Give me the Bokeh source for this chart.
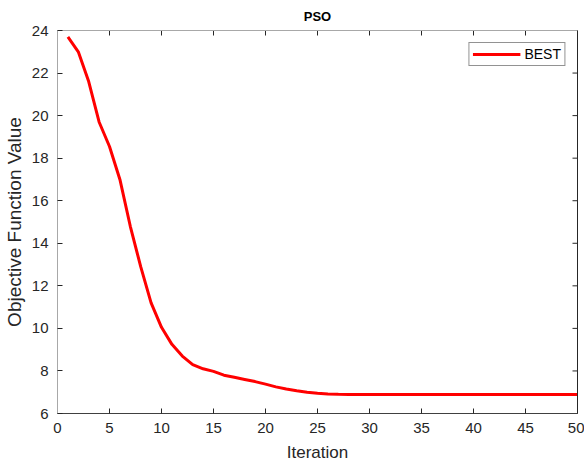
import math
from bokeh.plotting import figure
from bokeh.models import LinearAxis, FixedTicker, Legend, LegendItem, Range1d
from bokeh.embed import file_html
from bokeh.resources import INLINE

iterations = list(range(1, 51))
best = [23.7, 23.0, 21.6, 19.7, 18.55, 17.0, 14.8, 12.9, 11.2, 10.05,
        9.25, 8.7, 8.3, 8.1, 7.98, 7.8, 7.7, 7.6, 7.5, 7.38,
        7.25, 7.15, 7.07, 7.0, 6.95, 6.92, 6.9, 6.89, 6.89, 6.89,
        6.89, 6.89, 6.89, 6.89, 6.89, 6.89, 6.89, 6.89, 6.89, 6.89,
        6.89, 6.89, 6.89, 6.89, 6.89, 6.89, 6.89, 6.89, 6.89, 6.89]
x_ticks = [0, 5, 10, 15, 20, 25, 30, 35, 40, 45, 50]
y_ticks = [6, 8, 10, 12, 14, 16, 18, 20, 22, 24]
x_min, x_max = 0, 50
y_min, y_max = 6, 24

FONT = "Liberation Sans"
DARK = "#262626"

p = figure(width=584, height=464, output_backend="svg", toolbar_location=None,
           x_range=Range1d(x_min, x_max), y_range=Range1d(y_min, y_max),
           min_border_left=57, min_border_right=7, min_border_top=30, min_border_bottom=48)
p.title.text = "PSO"
p.title.align = "center"
p.title.text_font = FONT
p.title.text_font_size = "13px"
p.title.text_font_style = "bold"
p.title.text_color = "#000000"
p.title.standoff = 13
p.grid.visible = False
p.outline_line_color = None

r = p.line(iterations, best, line_color="#ff0000", line_width=3)

for ax in p.xaxis + p.yaxis:
    ax.major_label_text_font = FONT
    ax.major_label_text_font_size = "15px"
    ax.major_label_text_color = DARK
    ax.axis_label_text_font = FONT
    ax.axis_label_text_font_style = "normal"
    ax.axis_label_text_color = DARK
    ax.major_tick_in = 5
    ax.major_tick_out = 0
    ax.minor_tick_in = 0
    ax.minor_tick_out = 0
    ax.major_tick_line_color = DARK
    ax.axis_line_width = 1

p.xaxis.ticker = FixedTicker(ticks=x_ticks)
p.yaxis.ticker = FixedTicker(ticks=y_ticks)
p.xaxis.axis_label = "Iteration"
p.yaxis.axis_label = "Objective Function Value"
p.xaxis.axis_label_text_font_size = "17px"
p.yaxis.axis_label_text_font_size = "19px"
p.xaxis.axis_line_color = "#404040"
p.yaxis.axis_line_color = "#a8a8a8"
p.xaxis.major_label_standoff = 9
p.yaxis.major_label_standoff = 9
p.xaxis.axis_label_standoff = 7
p.yaxis.axis_label_standoff = 4

# box: top and right spines (no labels)
top = LinearAxis(ticker=FixedTicker(ticks=[]), major_tick_in=0, major_tick_out=0,
                 minor_tick_in=0, minor_tick_out=0, axis_line_color="#a8a8a8")
right = LinearAxis(ticker=FixedTicker(ticks=[]), major_tick_in=0, major_tick_out=0,
                   minor_tick_in=0, minor_tick_out=0, axis_line_color="#262626")
p.add_layout(top, "above")
p.add_layout(right, "right")

# inward ticks on the top and right edges
p.ray(x=x_ticks, y=[y_max] * len(x_ticks), length=5, length_units="screen",
      angle=-math.pi / 2, line_color=DARK, line_width=1)
p.ray(x=[x_max] * len(y_ticks), y=y_ticks, length=5, length_units="screen",
      angle=math.pi, line_color=DARK, line_width=1)

legend = Legend(items=[LegendItem(label="BEST", renderers=[r])], location="top_right")
legend.label_text_font = FONT
legend.label_text_font_size = "14px"
legend.label_text_color = "#000000"
legend.glyph_width = 48
legend.glyph_height = 16
legend.label_height = 16
legend.label_standoff = 4
legend.padding = 3
legend.margin = 12
legend.border_line_color = DARK
legend.border_line_width = 1
legend.background_fill_color = "white"
p.add_layout(legend)

open("out.html", "w").write(file_html(p, INLINE))
